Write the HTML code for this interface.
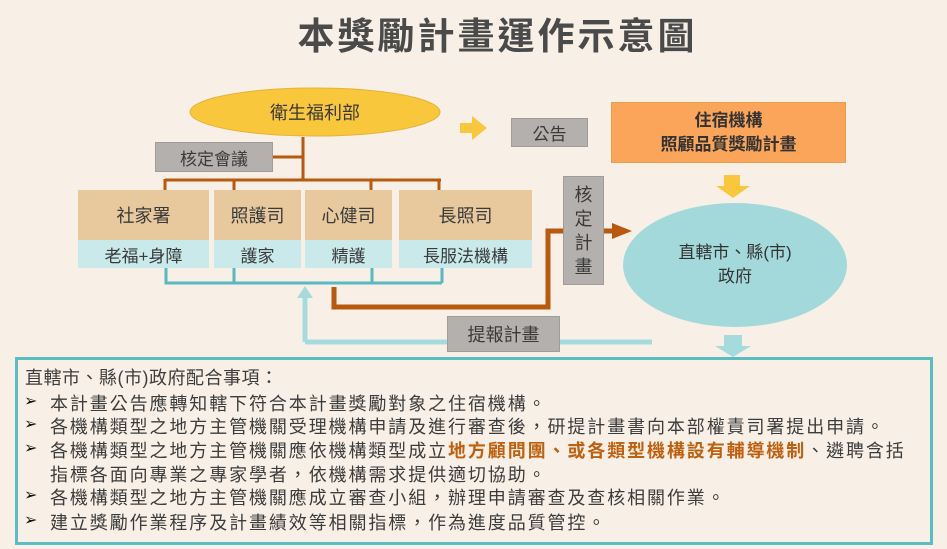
<!DOCTYPE html>
<html><head><meta charset="utf-8"><style>
body{margin:0;width:947px;height:549px;background:#f8f0e6;position:relative;overflow:hidden;font-family:"Liberation Sans","Noto Sans CJK TC",sans-serif;color:#444}
.a{position:absolute;display:flex;align-items:center;justify-content:center;box-sizing:border-box;text-align:center}
.g{background:#b3b0ae;border:1px solid #a09c99;font-size:17px;color:#3a3a3a}
.tan{background:#e8c99e;font-size:18px;color:#3a3a3a}
.bl{background:#c9e9ea;font-size:17px;color:#3a3a3a}
.ln{position:absolute;left:50px;font-size:18px;letter-spacing:1.9px;white-space:nowrap;color:#3c3c3c}
.bu{position:absolute;left:24px;font-size:16px;color:#111}
</style></head><body>
<div class="a" style="left:24px;top:8px;width:947px;height:50px;font-size:37px;font-weight:bold;letter-spacing:3px;color:#4a4a4a">本獎勵計畫運作示意圖</div>
<svg width="947" height="549" style="position:absolute;left:0;top:0">
<ellipse cx="315" cy="112" rx="125" ry="24" fill="#f9c73c" stroke="#e5b23a"/>
<g stroke="#b9580f" stroke-width="3" fill="none">
<path d="M303 137V180M273 157H303M165 180H441M165 179V190M234 179V190M371 179V190M439 179V190"/>
</g>
<g stroke="#59b9c0" stroke-width="3" fill="none">
<path d="M166 268V283H442M234 268V283M372 268V283M442 268V283"/>
</g>
<path d="M305 342V296" stroke="#a6dbdd" stroke-width="5"/>
<path d="M305 342H652" stroke="#a6dbdd" stroke-width="5"/>
<polygon points="297,298 313,298 305,286" fill="#a6dbdd"/>
<path d="M334 287V307H548V231H565M604 231H614" stroke="#b9580f" stroke-width="5" fill="none"/>
<polygon points="612,223 632,231 612,239" fill="#b9580f"/>
<polygon points="460,123 472,123 472,116 487,128 472,140 472,133 460,133" fill="#f9c73c"/>
<polygon points="724,175 740,175 740,186 750,186 733,198 716,186 724,186" fill="#f9c73c"/>
<ellipse cx="735" cy="265" rx="112" ry="62" fill="#a4d9dc"/>
<polygon points="724,335 742,335 742,346 751,346 733,357 715,346 724,346" fill="#a6dbdd"/>
</svg>
<div class="a" style="left:190px;top:88px;width:250px;height:48px;font-size:18px;color:#3a3a3a">衛生福利部</div>
<div class="a g" style="left:155px;top:142px;width:118px;height:30px">核定會議</div>
<div class="a tan" style="left:78px;top:190px;width:131px;height:50px">社家署</div>
<div class="a bl" style="left:78px;top:240px;width:131px;height:28px">老福+身障</div>
<div class="a tan" style="left:214px;top:190px;width:87px;height:50px">照護司</div>
<div class="a bl" style="left:214px;top:240px;width:87px;height:28px">護家</div>
<div class="a tan" style="left:305px;top:190px;width:87px;height:50px">心健司</div>
<div class="a bl" style="left:305px;top:240px;width:87px;height:28px">精護</div>
<div class="a tan" style="left:399px;top:190px;width:133px;height:50px">長照司</div>
<div class="a bl" style="left:399px;top:240px;width:133px;height:28px">長服法機構</div>
<div class="a g" style="left:511px;top:118px;width:77px;height:29px">公告</div>
<div class="a g" style="left:563px;top:176px;width:41px;height:109px;font-size:18px;line-height:24px;flex-direction:column">核<br>定<br>計<br>畫</div>
<div class="a g" style="left:447px;top:316px;width:113px;height:36px;font-size:18px">提報計畫</div>
<div class="a" style="left:611px;top:102px;width:235px;height:61px;background:#fba55a;border:1px solid #e5a050;font-size:17px;font-weight:bold;line-height:24px;color:#333;flex-direction:column"><div>住宿機構</div><div>照顧品質獎勵計畫</div></div>
<div class="a" style="left:623px;top:240px;width:224px;height:50px;font-size:17px;line-height:24px;color:#333;flex-direction:column"><div>直轄市、縣(市)</div><div>政府</div></div>
<div style="position:absolute;left:15px;top:357px;width:918px;height:188px;border:3px solid #5bbcc2;box-sizing:border-box"></div>
<div class="ln" style="left:25px;top:364px;letter-spacing:0.5px">直轄市、縣(市)政府配合事項：</div>
<div class="bu" style="top:391px">➢</div><div class="ln" style="top:390px">本計畫公告應轉知轄下符合本計畫獎勵對象之住宿機構。</div>
<div class="bu" style="top:414px">➢</div><div class="ln" style="top:413px">各機構類型之地方主管機關受理機構申請及進行審查後，研提計畫書向本部權責司署提出申請。</div>
<div class="bu" style="top:438px">➢</div><div class="ln" style="top:437px">各機構類型之地方主管機關應依機構類型成立<b style="color:#c0600f">地方顧問團、或各類型機構設有輔導機制</b>、遴聘含括</div>
<div class="ln" style="top:461px">指標各面向專業之專家學者，依機構需求提供適切協助。</div>
<div class="bu" style="top:485px">➢</div><div class="ln" style="top:484px">各機構類型之地方主管機關應成立審查小組，辦理申請審查及查核相關作業。</div>
<div class="bu" style="top:510px">➢</div><div class="ln" style="top:509px">建立獎勵作業程序及計畫績效等相關指標，作為進度品質管控。</div>
</body></html>
